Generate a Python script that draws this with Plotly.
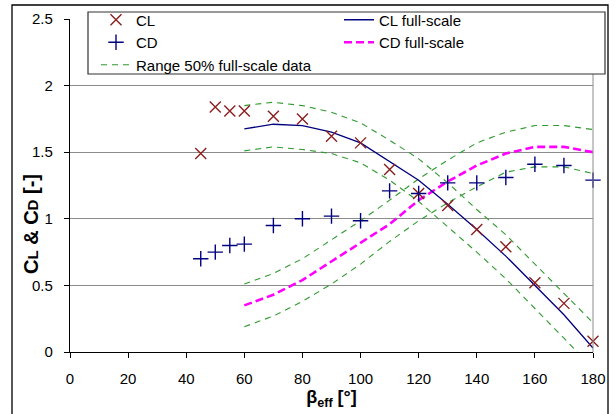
import plotly.graph_objects as go

# ---- data ----
beta_exp = [45, 50, 55, 60, 70, 80, 90, 100, 110, 120, 130, 140, 150, 160, 170, 180]
cl_exp = [1.49, 1.84, 1.81, 1.81, 1.77, 1.75, 1.62, 1.57, 1.37, 1.19, 1.10, 0.92, 0.79, 0.52, 0.365, 0.08]
cd_exp = [0.70, 0.75, 0.80, 0.81, 0.95, 1.00, 1.02, 0.985, 1.21, 1.19, 1.27, 1.27, 1.31, 1.41, 1.40, 1.29]

beta_fs = [60, 70, 80, 90, 100, 110, 120, 130, 140, 150, 160, 170, 180]
cl_fs = [1.675, 1.71, 1.70, 1.65, 1.57, 1.43, 1.29, 1.11, 0.92, 0.72, 0.50, 0.28, 0.03]
cd_fs = [0.35, 0.43, 0.54, 0.68, 0.82, 0.96, 1.14, 1.28, 1.40, 1.49, 1.54, 1.54, 1.50]
cl_upper = [1.85, 1.875, 1.85, 1.80, 1.72, 1.59, 1.45, 1.27, 1.07, 0.88, 0.66, 0.44, 0.22]
cl_lower = [1.51, 1.54, 1.52, 1.49, 1.42, 1.29, 1.13, 0.94, 0.75, 0.55, 0.33, 0.11, -0.12]
cd_upper = [0.51, 0.59, 0.70, 0.84, 0.985, 1.14, 1.30, 1.44, 1.57, 1.65, 1.70, 1.70, 1.67]
cd_lower = [0.19, 0.27, 0.38, 0.51, 0.66, 0.83, 0.985, 1.12, 1.24, 1.35, 1.39, 1.39, 1.34]

x_ticks = [0, 20, 40, 60, 80, 100, 120, 140, 160, 180]
y_ticks = [0, 0.5, 1, 1.5, 2, 2.5]

FONT = "Liberation Sans, Arial, sans-serif"
GREEN = "#2E9B2E"
DARKRED = "#8B1E1E"
NAVY = "#00007F"

fig = go.Figure()

band_style = dict(color=GREEN, width=1.1, dash="6px,5px")
for i, band in enumerate([cl_upper, cl_lower, cd_upper, cd_lower]):
    fig.add_trace(go.Scatter(
        x=beta_fs, y=band, mode="lines", line=band_style,
        name="Range 50% full-scale data", showlegend=(i == 0), legendrank=5,
    ))

fig.add_trace(go.Scatter(x=beta_fs, y=cd_fs, mode="lines", name="CD full-scale",
                         line=dict(color="#FF00FF", width=2.6, dash="8px,4px"), legendrank=4))
fig.add_trace(go.Scatter(x=beta_fs, y=cl_fs, mode="lines", name="CL full-scale",
                         line=dict(color=NAVY, width=1.3), legendrank=2))
fig.add_trace(go.Scatter(x=beta_exp, y=cl_exp, mode="markers", name="CL", cliponaxis=False,
                         marker=dict(symbol="x-thin", size=11, line=dict(color=DARKRED, width=1.4)),
                         legendrank=1))
fig.add_trace(go.Scatter(x=beta_exp, y=cd_exp, mode="markers", name="CD", cliponaxis=False,
                         marker=dict(symbol="cross-thin", size=11, line=dict(color=NAVY, width=1.4)),
                         legendrank=3))

L, R, T, B = 70, 22, 19, 62
W, H = 615, 414
pw, ph = W - L - R, H - T - B

def px(x):
    return (x - L) / pw

def py(y):
    return (H - B - y) / ph

fig.update_layout(
    width=W, height=H,
    margin=dict(l=L, r=R, t=T, b=B, pad=0, autoexpand=False),
    paper_bgcolor="white", plot_bgcolor="white",
    font=dict(family=FONT, size=15, color="black"),
    showlegend=True,
    legend=dict(
        orientation="h", x=px(96), y=py(3.5), xanchor="left", yanchor="top",
        bgcolor="rgba(0,0,0,0)", borderwidth=0, entrywidth=198,
        font=dict(family=FONT, size=15), traceorder="normal", tracegroupgap=0,
    ),
    xaxis=dict(
        range=[0, 180], tickvals=x_ticks, showgrid=False, zeroline=False,
        showline=True, linecolor="black", linewidth=1.2,
        ticks="outside", ticklen=5, tickcolor="black", ticklabelstandoff=8,
        title=dict(text="<b>β<sub>eff</sub> [°]</b>", font=dict(size=18), standoff=1),
    ),
    yaxis=dict(
        range=[0, 2.5], tickvals=y_ticks, showgrid=True, gridcolor="#8C8C8C", gridwidth=1,
        zeroline=False, showline=True, linecolor="black", linewidth=1.2,
        ticks="outside", ticklen=5, tickcolor="black", ticklabelstandoff=8,
    ),
    annotations=[
        dict(text="<b>C<span style='font-size:15px'>L</span> &amp; C<span style='font-size:15px'>D</span> [-]</b>",
             xref="paper", yref="paper", x=px(31), y=py(224), xanchor="center", yanchor="middle",
             textangle=-90, showarrow=False, font=dict(family=FONT, size=20, color="black")),
    ],
    shapes=[
        dict(type="line", xref="paper", yref="paper", x0=1, x1=1, y0=0, y1=1,
             line=dict(color="#8C8C8C", width=1)),
        dict(type="rect", xref="paper", yref="paper", x0=px(12), x1=px(608), y0=py(430), y1=py(5),
             line=dict(color="black", width=1.3), fillcolor="rgba(0,0,0,0)", layer="below"),
        dict(type="rect", xref="paper", yref="paper", x0=px(88), x1=px(605), y0=py(74), y1=py(12),
             line=dict(color="#333333", width=1.2), fillcolor="white", layer="above"),
    ],
)

fig.write_html("out.html")
